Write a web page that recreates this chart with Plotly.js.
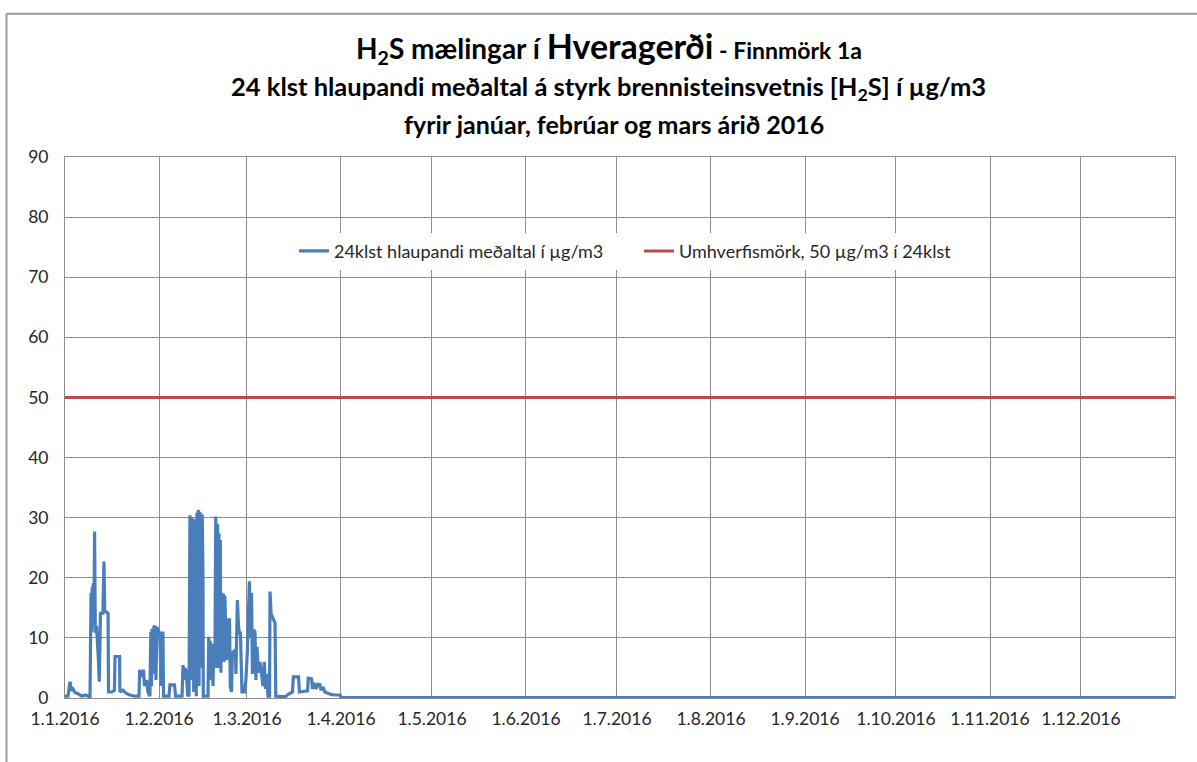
<!DOCTYPE html>
<html>
<head>
<meta charset="utf-8">
<script src="https://cdn.plot.ly/plotly-3.0.1.min.js"></script>
<style>html,body{margin:0;padding:0;background:#fff;}#chart{width:1197px;height:762px;}</style>
</head>
<body>
<div id="chart"></div>
<script>
// days since 1.1.2016 00:00 and 24h running mean of H2S (µg/m3)
const days = [0,1.0,1.65,2.15,2.65,3.3,4.3,5.6,6.6,8.25,8.6,8.8,9.0,9.15,9.33,9.55,9.75,10.0,10.4,10.7,11.05,11.3,11.45,11.7,12.5,12.85,13.1,14.2,14.35,15.5,16.3,16.5,18.0,18.1,19.1,20.1,21.4,23.1,24.4,24.6,25.05,25.9,26.2,26.9,27.35,28.0,28.3,28.5,28.7,29.0,29.3,29.7,30.0,30.3,30.85,31.3,31.65,31.9,32.3,32.5,34.3,34.6,36.1,36.45,38.6,38.9,39.25,39.6,39.9,40.2,40.5,40.9,41.2,41.45,41.6,41.8,42.0,42.2,42.45,42.65,42.85,43.1,43.3,43.5,43.75,43.95,44.2,44.4,44.6,44.85,45.05,45.25,45.5,45.6,47.15,47.4,47.65,47.9,48.25,48.45,48.8,49.1,49.45,49.7,49.95,50.3,50.55,50.75,51.0,51.2,51.4,51.65,51.9,52.2,52.4,52.7,52.9,53.3,53.6,54.25,54.5,54.9,55.2,55.7,56.2,56.35,56.6,56.85,57.2,57.5,57.85,58.1,58.35,59.15,59.65,60.15,60.8,61.15,61.5,61.8,62.15,62.65,62.95,63.3,63.8,64.3,64.8,65.3,65.7,66.1,66.45,66.95,67.45,67.6,67.95,68.4,69.25,69.5,72.6,73.9,75.0,75.3,77.0,77.3,80.0,80.2,81.3,81.6,82.1,82.75,83.4,84.1,84.4,85.1,85.7,86.7,87.7,89.0,90.7,91.0,365.9];
const h2s = [0.3,0.3,2.7,1.2,1.5,0.9,0.7,0.3,0.5,0.2,17.5,11,18.5,12,19.1,12,27.7,10.8,12,10,6,2.7,8,14.1,14.1,22.7,14.5,14.1,1.0,1.0,1.3,6.9,6.9,1.0,1.3,0.8,0.5,0.3,0.3,4.7,3.5,4.7,2,3,1,0.3,11,2,11.5,4,11.8,12,3,11.8,11,10.8,2,10.8,10.8,0.3,0.3,2.2,2.2,0.3,0.3,5.5,3,5,4.5,2,0.3,0.5,30.4,28,3,30,5,29.8,1,29.7,8,29.5,0.3,30.8,10,31.3,2,31,12,30.7,5,30.5,20,0.3,0.3,10.2,3,9.5,6.5,9,2,9,7,30.2,5,29,8,27.4,5,26.3,4.2,17.5,7,17.4,6,17,13,6.3,13,13,1.9,1,7.5,7.8,8,4,8.5,16.3,12,10.8,10.8,6.5,1,1,3,8,19.4,10,17.5,4,11.3,11,3,8.5,4.2,6,4.2,2,6,1.5,4,0.3,0.3,17.7,14,13.5,12.5,0.3,0.2,0.7,1,3.5,3.5,1,1.2,3.3,3.2,1.5,2.5,1.5,2.3,2.2,1.3,1.8,1,0.8,0.6,0.5,0.5,0.05,0.05];
const limitDates = ['2016-01-01','2016-12-31 22:00'];
const limitValues = [50,50];
const tickDates = ['2016-01-01','2016-02-01','2016-03-01','2016-04-01','2016-05-01','2016-06-01','2016-07-01','2016-08-01','2016-09-01','2016-10-01','2016-11-01','2016-12-01'];
const tickLabels = ['1.1.2016','1.2.2016','1.3.2016','1.4.2016','1.5.2016','1.6.2016','1.7.2016','1.8.2016','1.9.2016','1.10.2016','1.11.2016','1.12.2016'];
const seriesNames = ['24klst hlaupandi meðaltal í µg/m3','Umhverfismörk, 50 µg/m3 í 24klst'];

const t0 = Date.UTC(2016,0,1);
function toStr(d){
  const dt = new Date(t0 + d*86400000);
  const p = n => String(n).padStart(2,'0');
  return dt.getUTCFullYear()+'-'+p(dt.getUTCMonth()+1)+'-'+p(dt.getUTCDate())+' '+p(dt.getUTCHours())+':'+p(dt.getUTCMinutes());
}
const xDates = days.map(toStr);

const FONT = 'Lato, "Open Sans", sans-serif';
const traces = [
  {x:xDates, y:h2s, type:'scatter', mode:'lines', name:seriesNames[0],
   line:{color:'#4a7ebb', width:3.2}},
  {x:limitDates, y:limitValues, type:'scatter', mode:'lines', name:seriesNames[1],
   line:{color:'#be4b48', width:3}}
];
const gridC = '#8c8c8c';
const layout = {
  width:1197, height:762,
  margin:{l:65, r:22, t:157, b:64},
  paper_bgcolor:'#fff', plot_bgcolor:'#fff',
  font:{family:FONT, color:'#262626', size:17},
  showlegend:true,
  legend:{orientation:'h', x:0.2063, xanchor:'left', y:0.86, yanchor:'top',
    bgcolor:'#fff', font:{family:FONT, size:18, color:'#262626'}, itemwidth:30, entrywidth:300},
  xaxis:{type:'date', range:['2016-01-01','2017-01-01'], tickvals:tickDates, ticktext:tickLabels,
    showgrid:true, gridcolor:gridC, gridwidth:1, showline:true, linecolor:gridC, linewidth:1, mirror:true,
    ticks:'', ticklabelstandoff:5, zeroline:false, tickfont:{size:17.5, color:'#262626'}},
  yaxis:{range:[0,90], dtick:10, tick0:0, showgrid:true, gridcolor:gridC, gridwidth:1,
    showline:true, linecolor:gridC, linewidth:1, mirror:true, ticks:'', ticklabelstandoff:12,
    zeroline:false, tickfont:{size:17.5, color:'#262626'}},
  annotations:[
    {xref:'paper', yref:'paper', x:0.49, y:1.203, xanchor:'center', yanchor:'middle', showarrow:false,
     text:'<b><span style="font-size:28px">H<sub>2</sub>S mælingar í </span><span style="font-size:34px">Hveragerði</span><span style="font-size:23px"> - Finnmörk 1a</span></b>',
     font:{family:FONT, size:28, color:'#000'}},
    {xref:'paper', yref:'paper', x:0.49, y:1.1275, xanchor:'center', yanchor:'middle', showarrow:false,
     text:'<b>24 klst hlaupandi meðaltal á styrk brennisteinsvetnis [H<sub>2</sub>S] í µg/m3</b>',
     font:{family:FONT, size:25.5, color:'#000'}},
    {xref:'paper', yref:'paper', x:0.495, y:1.061, xanchor:'center', yanchor:'middle', showarrow:false,
     text:'<b>fyrir janúar, febrúar og mars árið 2016</b>',
     font:{family:FONT, size:25, color:'#000'}}
  ],
  shapes:[
    {type:'line', xref:'paper', yref:'paper', x0:-0.0527, x1:1.03, y0:1.265, y1:1.265, line:{color:'#9a9a9a', width:2}},
    {type:'line', xref:'paper', yref:'paper', x0:-0.0527, x1:-0.0527, y0:1.265, y1:-0.2, line:{color:'#9a9a9a', width:2}}
  ]
};
Plotly.newPlot('chart', traces, layout, {displayModeBar:false, staticPlot:true});
</script>
</body>
</html>
